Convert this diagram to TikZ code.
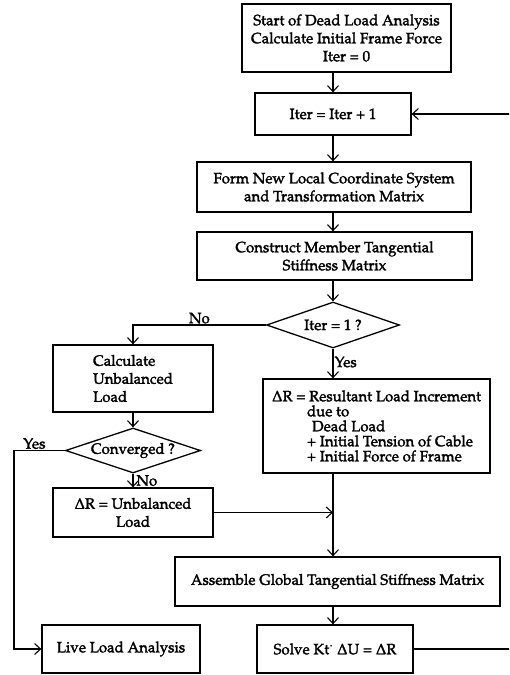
\documentclass[tikz,border=0pt]{standalone}
\usepackage[T1]{fontenc}
\usepackage{mathpazo}
\usetikzlibrary{arrows.meta,shapes.geometric,calc}
\newcommand{\fbOn}{\special{pdf:literal direct 2 Tr 0.3 w}}
\newcommand{\fbOff}{\special{pdf:literal direct 0 Tr}}
\begin{document}
\begin{tikzpicture}[x=1pt,y=-1pt,
  heavy/.style={execute at begin node=\fbOn,execute at end node=\fbOff},
  box/.style={draw,heavy,line width=1.3pt,inner sep=0pt,align=center,font=\fontsize{15}{18}\selectfont},
  dia/.style={draw,heavy,diamond,line width=1.3pt,inner sep=0pt,aspect=2.9,font=\fontsize{15}{18}\selectfont},
  arr/.style={line width=1.1pt,-{Straight Barb[length=6pt,width=11pt,line width=1.1pt]}},
  lbl/.style={heavy,inner sep=1pt,font=\fontsize{15}{18}\selectfont}]
\useasboundingbox (0,0) rectangle (509,675);
\clip (0,0) rectangle (509,675);
\fill[white] (0,0) rectangle (509,675);

\node[box,minimum width=209pt,minimum height=68pt] (start) at (346.5,38)
  {Start of Dead Load Analysis\\Calculate Initial Frame Force\\Iter = 0};
\node[box,minimum width=156pt,minimum height=42pt] (iter) at (333,114) {Iter = Iter + 1};
\node[box,minimum width=274pt,minimum height=50pt] (form) at (334,187)
  {Form New Local Coordinate System\\and Transformation Matrix};
\node[box,minimum width=275pt,minimum height=48pt] (constr) at (334.5,256)
  {Construct Member Tangential\\Stiffness Matrix};
\node[dia,minimum width=133pt,minimum height=46pt] (iter1) at (333,325) {Iter = 1 ?};
\node[box,minimum width=227pt,minimum height=94pt,align=left,
  font=\fontsize{15}{15}\selectfont] (res) at (376.5,426)
  {$\Delta$R = Resultant Load Increment\\
   \hspace*{35pt}due to\\
   \hspace*{40pt}Dead Load\\
   \hspace*{35pt}+ Initial Tension of Cable\\
   \hspace*{35pt}+ Initial Force of Frame};
\node[box,minimum width=160pt,minimum height=67pt,align=left] (calc) at (133,378.5)
  {Calculate\\Unbalanced\\Load};
\node[dia,minimum width=135pt,minimum height=45pt] (conv) at (133,450.5) {Converged ?};
\node[box,minimum width=160pt,minimum height=49pt] (unb) at (133,512.5)
  {$\Delta$R = Unbalanced\\Load};
\node[box,minimum width=325pt,minimum height=49pt] (asm) at (337.5,581.5)
  {Assemble Global Tangential Stiffness Matrix};
\node[box,minimum width=156pt,minimum height=48pt] (solve) at (335,649)
  {Solve Kt$^{\cdot}$ $\Delta$U = $\Delta$R};
\node[box,minimum width=158pt,minimum height=48pt] (live) at (121,649)
  {Live Load Analysis};

\coordinate (loopR) at (515,0);
\coordinate (yesL) at (14,0);

\draw[arr] (start.south -| iter.north) -- (iter.north);
\draw[arr] (iter.south) -- (iter.south |- form.north);
\draw[arr] (iter.south |- form.south) -- (iter.south |- constr.north);
\draw[arr] (iter.south |- constr.south) -- (iter1.north);
\draw[arr] (iter1.west) -| node[lbl,pos=0.25,above] {No} (calc.north);
\draw[arr] (iter1.south) -- node[lbl,right,pos=0.45] {Yes} (iter1.south |- res.north);
\draw[arr] (calc.south) -- (conv.north);
\draw[arr] (conv.south) -- node[lbl,right,pos=0.5,xshift=2pt] {No} (unb.north);
\draw[arr] (conv.west) -| node[lbl,pos=0.3,above] {Yes} (yesL |- live.west) -- (live.west);
\draw[arr] (iter1.south |- res.south) -- (iter1.south |- asm.north);
\draw[arr] (unb.east) -- (unb.east -| iter1.south);
\draw[arr] (iter1.south |- asm.south) -- (iter1.south |- solve.north);
\draw[arr] (solve.east) -| (loopR |- iter.east) -- (iter.east);
\end{tikzpicture}
\end{document}
